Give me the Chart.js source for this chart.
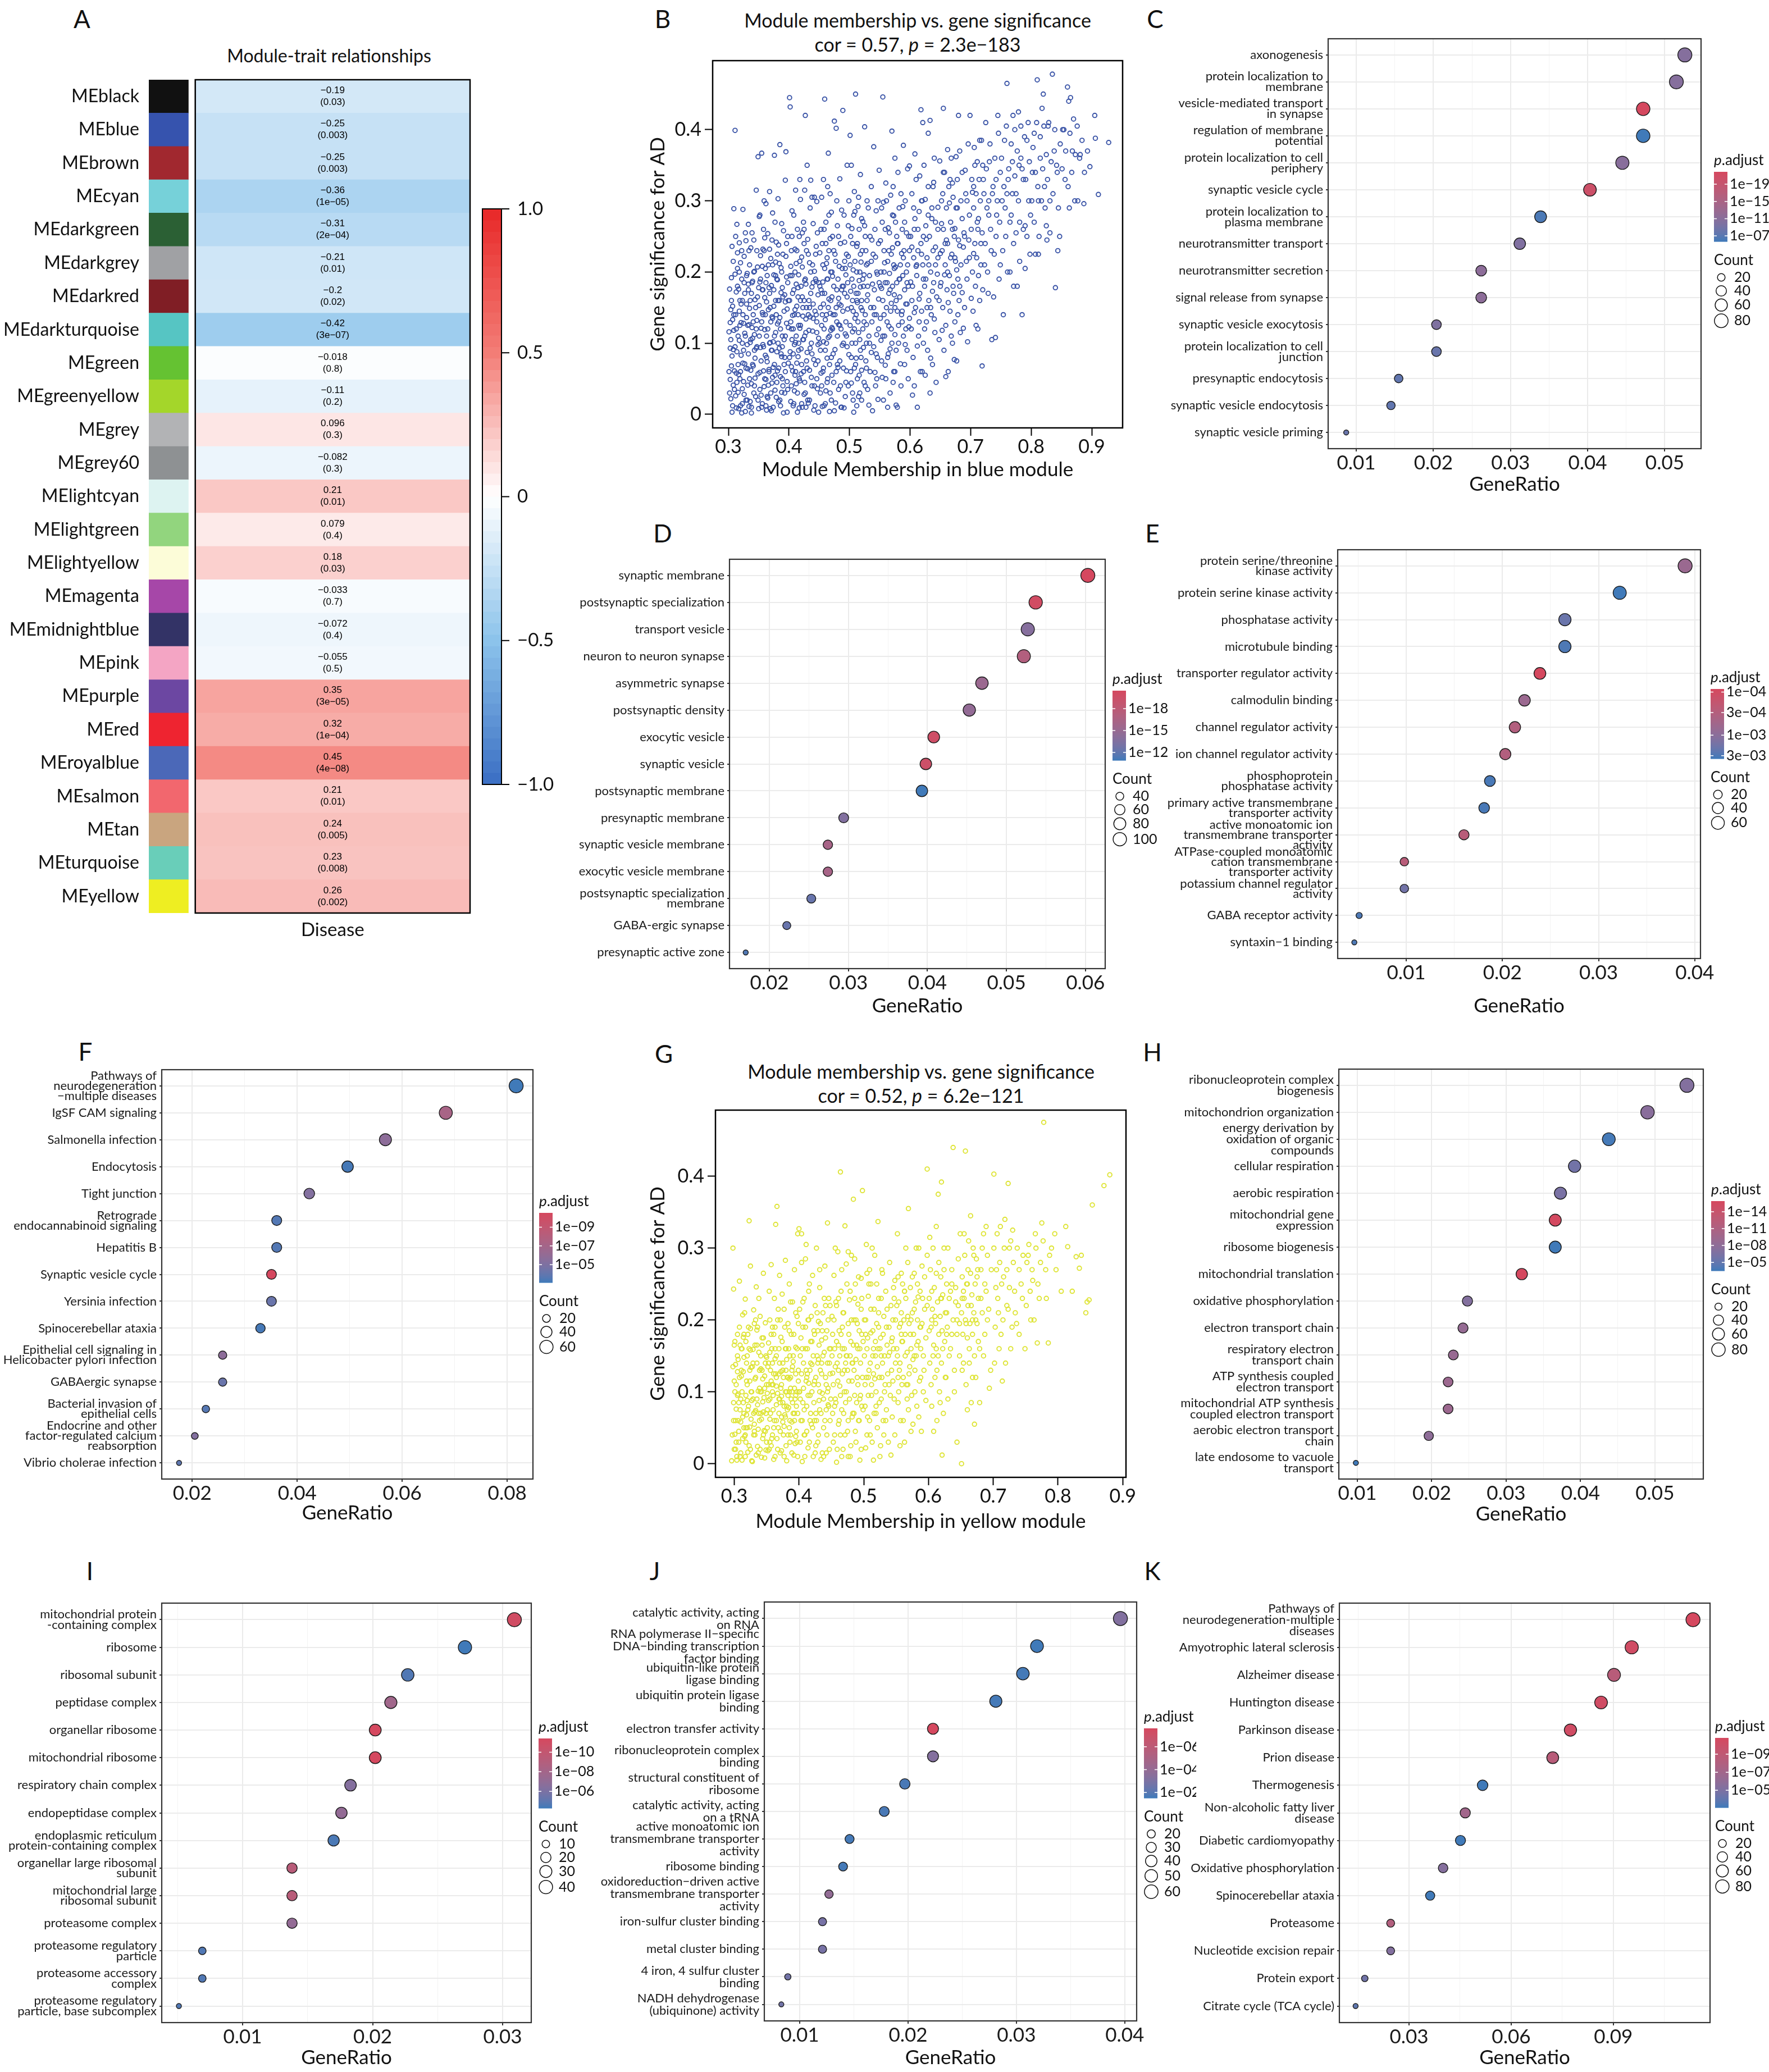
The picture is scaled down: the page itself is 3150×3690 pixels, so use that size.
<!DOCTYPE html>
<html>
<head>
<meta charset="utf-8">
<title>Module-trait relationships and enrichment</title>
<script src="https://cdn.jsdelivr.net/npm/chart.js@4.4.1/dist/chart.umd.min.js"></script>
<style>
  html, body { margin: 0; background: #fff; }
  body { position: relative; width: 3150px; height: 3690px; overflow: hidden; font-family: Lato, sans-serif; color: #111; }
  canvas { position: absolute; }
  .tag { position: absolute; font-size: 44px; transform: translate(-50%, -50%); }
  .head { position: absolute; font-size: 34px; white-space: nowrap; transform: translate(-50%, -50%); }
</style>
</head>
<body>
<div class="tag" style="left:146px;top:33px">A</div>
<div class="tag" style="left:1180px;top:33px">B</div>
<div class="tag" style="left:2057px;top:33px">C</div>
<div class="tag" style="left:1180px;top:949px">D</div>
<div class="tag" style="left:2052px;top:949px">E</div>
<div class="tag" style="left:152px;top:1872px">F</div>
<div class="tag" style="left:1182px;top:1876px">G</div>
<div class="tag" style="left:2052px;top:1873px">H</div>
<div class="tag" style="left:160px;top:2797px">I</div>
<div class="tag" style="left:1166px;top:2797px">J</div>
<div class="tag" style="left:2052px;top:2797px">K</div>
<div class="head" style="left:586px;top:98px;font-size:32px">Module-trait relationships</div>
<div class="head" style="left:1634px;top:35px">Module membership vs. gene significance</div>
<div class="head" style="left:1634px;top:78px">cor = 0.57, <i>p</i> = 2.3e−183</div>
<div class="head" style="left:1640px;top:1907px">Module membership vs. gene significance</div>
<div class="head" style="left:1640px;top:1950px">cor = 0.52, <i>p</i> = 6.2e−121</div>
<script>
// ---- A: module-trait heatmap ----
const modules = ['MEblack', 'MEblue', 'MEbrown', 'MEcyan', 'MEdarkgreen', 'MEdarkgrey', 'MEdarkred', 'MEdarkturquoise',
  'MEgreen', 'MEgreenyellow', 'MEgrey', 'MEgrey60', 'MElightcyan', 'MElightgreen', 'MElightyellow', 'MEmagenta',
  'MEmidnightblue', 'MEpink', 'MEpurple', 'MEred', 'MEroyalblue', 'MEsalmon', 'MEtan', 'MEturquoise', 'MEyellow'];
const moduleColors = ['#111111', '#3653AE', '#A1282F', '#76D1D9', '#2B6034', '#A0A1A4', '#801E25', '#56C5C3',
  '#65C232', '#A4D62A', '#B2B3B5', '#8E9193', '#DDF3F1', '#92D57E', '#FCFCD8', '#A647A8',
  '#333366', '#F4A5C4', '#6C47A2', '#EE2430', '#4B68B8', '#F2676E', '#C9A57F', '#69CEB9', '#EEEE22'];
const diseaseCor = [-0.19, -0.25, -0.25, -0.36, -0.31, -0.21, -0.2, -0.42, -0.018, -0.11, 0.096, -0.082, 0.21,
  0.079, 0.18, -0.033, -0.072, -0.055, 0.35, 0.32, 0.45, 0.21, 0.24, 0.23, 0.26];
const diseaseP = ['0.03', '0.003', '0.003', '1e−05', '2e−04', '0.01', '0.02', '3e−07', '0.8', '0.2', '0.3', '0.3', '0.01',
  '0.4', '0.03', '0.7', '0.4', '0.5', '3e−05', '1e−04', '4e−08', '0.01', '0.005', '0.008', '0.002'];
const corBarTicks = [1, 0.5, 0, -0.5, -1];

// ---- B / G: module membership vs gene significance ----
const mmTicks = [0.3, 0.4, 0.5, 0.6, 0.7, 0.8, 0.9];
const gsTicks = [0, 0.1, 0.2, 0.3, 0.4];
const bluePoints = [
  [.301,.116],[.303,.049],[.304,.147],[.305,.192],[.305,.068],[.306,.003],[.307,.133],[.308,.091],[.309,.289],[.311,.399],
  [.312,.026],[.313,.172],[.314,.267],[.315,.205],[.316,.110],[.317,.056],[.318,.241],[.319,.160],[.320,.012],[.321,.083],
  [.322,.190],[.323,.036],[.324,.288],[.325,.128],[.326,.222],[.327,.071],[.328,.004],[.329,.244],[.330,.155],[.331,.098],
  [.332,.041],[.333,.183],[.334,.126],[.335,.210],[.336,.018],[.337,.062],[.338,.170],[.339,.255],[.340,.107],[.341,.140],
  [.342,.030],[.343,.201],[.344,.079],[.346,.315],[.347,.230],[.348,.165],[.349,.362],[.350,.008],[.346,.120],[.344,.051],
  [.302,.176],[.303,.093],[.304,.022],[.306,.236],[.307,.152],[.308,.041],[.309,.118],[.310,.061],[.311,.197],[.312,.140],
  [.313,.009],[.314,.088],[.315,.227],[.316,.031],[.317,.176],[.318,.104],[.319,.050],[.320,.213],[.321,.129],[.322,.002],
  [.323,.160],[.324,.072],[.325,.046],[.326,.185],[.327,.114],[.328,.255],[.329,.020],[.330,.136],[.331,.198],[.332,.064],
  [.333,.267],[.334,.011],[.335,.149],[.336,.101],[.337,.234],[.338,.043],[.339,.122],[.340,.187],[.341,.068],[.342,.245],
  [.343,.112],[.344,.161],[.345,.025],[.346,.093],[.347,.132],[.348,.207],[.349,.057],[.350,.178],[.303,.129],[.313,.058],
  [.323,.100],[.333,.175],[.343,.090],[.318,.145],[.338,.002],
  [.301,.060],[.302,.030],[.304,.105],[.305,.160],[.306,.082],[.307,.012],[.308,.215],[.309,.140],[.310,.035],[.311,.095],
  [.312,.250],[.313,.120],[.314,.045],[.315,.180],[.316,.070],[.317,.008],[.318,.200],[.319,.125],[.320,.060],[.321,.155],
  [.322,.230],[.323,.015],[.324,.140],[.325,.090],[.326,.028],[.327,.170],[.328,.110],[.329,.065],[.330,.195],[.331,.020],
  [.332,.125],[.333,.085],[.334,.230],[.335,.050],[.336,.160],[.337,.105],[.338,.010],[.339,.185],[.340,.070],[.341,.130],
  [.342,.200],[.343,.040],[.345,.150],[.347,.095],[.349,.020],
  [.351,.278],[.352,.186],[.353,.094],[.354,.027],[.355,.367],[.356,.143],[.357,.232],[.358,.061],[.359,.300],[.360,.119],
  [.361,.205],[.362,.012],[.363,.158],[.364,.074],[.365,.254],[.366,.041],[.367,.178],[.368,.313],[.369,.101],[.370,.219],
  [.371,.005],[.372,.137],[.373,.283],[.374,.066],[.375,.196],[.376,.364],[.377,.034],[.378,.160],[.379,.242],[.380,.088],
  [.381,.127],[.382,.303],[.383,.018],[.384,.212],[.385,.379],[.386,.053],[.387,.171],[.388,.268],[.389,.110],[.390,.225],
  [.391,.002],[.392,.145],[.393,.080],[.394,.329],[.395,.369],[.396,.193],[.397,.046],[.398,.250],[.399,.122],[.356,.208],
  [.362,.049],[.372,.090],[.381,.189],[.388,.031],[.394,.158],
  [.351,.153],[.352,.059],[.353,.223],[.354,.121],[.355,.010],[.356,.175],[.357,.098],[.358,.260],[.359,.039],[.360,.164],
  [.361,.083],[.362,.296],[.363,.110],[.364,.195],[.365,.023],[.366,.147],[.367,.063],[.368,.232],[.369,.008],[.370,.130],
  [.371,.181],[.372,.044],[.373,.210],[.374,.102],[.375,.152],[.376,.070],[.377,.270],[.378,.115],[.379,.024],[.380,.190],
  [.381,.061],[.382,.160],[.383,.238],[.384,.093],[.385,.136],[.386,.012],[.387,.206],[.388,.081],[.389,.178],[.390,.040],
  [.391,.258],[.392,.105],[.393,.168],[.394,.060],[.395,.222],[.396,.128],[.397,.003],[.398,.185],[.399,.072],[.352,.280],
  [.357,.140],[.363,.006],[.368,.170],[.373,.052],[.378,.214],[.383,.130],[.389,.095],[.393,.030],[.397,.148],[.360,.248],
  [.351,.110],[.352,.035],[.353,.190],[.354,.075],[.355,.130],[.356,.015],[.357,.175],[.358,.095],[.359,.230],[.360,.050],
  [.361,.140],[.362,.185],[.363,.080],[.364,.025],[.365,.120],[.366,.210],[.367,.060],[.368,.100],[.369,.150],[.370,.030],
  [.371,.090],[.372,.245],[.373,.135],[.374,.010],[.375,.175],[.376,.110],[.377,.055],[.378,.195],[.379,.140],[.380,.045],
  [.381,.225],[.382,.100],[.383,.065],[.384,.160],[.385,.020],[.386,.120],[.387,.085],[.388,.200],[.389,.050],[.390,.165],
  [.392,.070],[.394,.110],[.396,.240],[.398,.035],[.399,.160],
  [.401,.445],[.402,.432],[.403,.208],[.404,.067],[.405,.286],[.406,.139],[.407,.012],[.408,.175],[.409,.098],[.410,.232],
  [.411,.315],[.412,.043],[.413,.152],[.414,.260],[.415,.081],[.416,.196],[.417,.009],[.418,.121],[.419,.302],[.420,.057],
  [.421,.221],[.422,.165],[.423,.105],[.424,.270],[.425,.028],[.426,.188],[.427,.420],[.428,.134],[.429,.075],[.430,.350],
  [.431,.246],[.432,.016],[.433,.160],[.434,.213],[.435,.093],[.436,.329],[.437,.052],[.438,.179],[.439,.117],[.440,.268],
  [.441,.006],[.442,.201],[.443,.145],[.444,.070],[.445,.236],[.446,.299],[.447,.036],[.448,.168],[.449,.107],[.405,.105],
  [.415,.140],[.425,.160],[.435,.137],[.445,.187],[.412,.183],
  [.401,.160],[.402,.088],[.403,.018],[.404,.230],[.405,.195],[.406,.061],[.407,.120],[.408,.280],[.409,.033],[.410,.147],
  [.411,.101],[.412,.212],[.413,.072],[.414,.003],[.415,.178],[.416,.125],[.417,.250],[.418,.047],[.419,.160],[.420,.092],
  [.421,.015],[.422,.207],[.423,.138],[.424,.060],[.425,.240],[.426,.110],[.427,.030],[.428,.183],[.429,.150],[.430,.087],
  [.431,.020],[.432,.225],[.433,.118],[.434,.062],[.435,.290],[.436,.170],[.437,.100],[.438,.040],[.439,.210],[.440,.135],
  [.441,.077],[.442,.305],[.443,.012],[.444,.190],[.445,.140],[.446,.050],[.447,.255],[.448,.098],[.449,.003],[.404,.120],
  [.410,.055],[.416,.090],[.422,.255],[.428,.010],[.434,.150],[.440,.185],[.446,.115],[.418,.330],[.438,.305],[.426,.315],
  [.401,.080],[.402,.195],[.403,.130],[.404,.040],[.405,.250],[.406,.170],[.407,.085],[.408,.015],[.409,.140],[.410,.200],
  [.411,.060],[.412,.110],[.413,.230],[.414,.030],[.415,.165],[.416,.100],[.417,.050],[.418,.215],[.419,.125],[.420,.180],
  [.421,.070],[.422,.010],[.423,.150],[.424,.105],[.425,.260],[.426,.045],[.427,.190],[.428,.115],[.429,.230],[.430,.065],
  [.432,.140],[.434,.020],[.436,.200],[.438,.085],[.440,.155],[.442,.040],[.444,.225],[.446,.130],[.448,.075],[.449,.185],
  [.451,.227],[.452,.150],[.453,.058],[.454,.305],[.455,.011],[.456,.186],[.457,.102],[.458,.260],[.459,.443],[.460,.133],
  [.461,.033],[.462,.212],[.463,.079],[.464,.320],[.465,.367],[.466,.162],[.467,.004],[.468,.247],[.469,.118],[.470,.284],
  [.471,.055],[.472,.194],[.473,.140],[.474,.230],[.475,.412],[.476,.091],[.477,.016],[.478,.402],[.479,.175],[.480,.265],
  [.481,.066],[.482,.126],[.483,.208],[.484,.331],[.485,.040],[.486,.153],[.487,.287],[.488,.097],[.489,.427],[.490,.180],
  [.491,.009],[.492,.242],[.493,.113],[.494,.196],[.495,.061],[.496,.350],[.497,.148],[.498,.222],[.499,.084],[.455,.170],
  [.468,.142],[.482,.163],[.493,.205],
  [.451,.100],[.452,.030],[.453,.175],[.454,.125],[.455,.240],[.456,.060],[.457,.155],[.458,.012],[.459,.205],[.460,.090],
  [.461,.270],[.462,.140],[.463,.045],[.464,.190],[.465,.108],[.466,.230],[.467,.070],[.468,.310],[.469,.160],[.470,.020],
  [.471,.122],[.472,.250],[.473,.085],[.474,.180],[.475,.005],[.476,.140],[.477,.215],[.478,.060],[.479,.300],[.480,.110],
  [.481,.190],[.482,.035],[.483,.155],[.484,.075],[.485,.240],[.486,.120],[.487,.010],[.488,.205],[.489,.145],[.490,.065],
  [.491,.280],[.492,.170],[.493,.025],[.494,.130],[.495,.225],[.496,.095],[.497,.185],[.498,.040],[.499,.300],[.457,.330],
  [.463,.220],[.471,.200],[.479,.130],[.487,.175],[.495,.110],
  [.451,.180],[.452,.090],[.453,.260],[.454,.040],[.455,.140],[.456,.210],[.457,.065],[.458,.120],[.459,.170],[.460,.015],
  [.461,.240],[.462,.100],[.463,.190],[.464,.050],[.465,.150],[.466,.280],[.467,.110],[.468,.030],[.469,.200],[.470,.080],
  [.471,.165],[.472,.120],[.474,.045],[.476,.225],[.478,.150],[.480,.070],[.482,.250],[.484,.125],[.486,.010],[.488,.180],
  [.490,.100],[.492,.215],[.494,.045],[.496,.165],[.498,.265],
  [.501,.392],[.502,.173],[.503,.044],[.504,.261],[.505,.116],[.506,.203],[.507,.003],[.508,.313],[.509,.135],[.510,.450],
  [.511,.079],[.512,.236],[.513,.157],[.514,.292],[.515,.025],[.516,.188],[.517,.105],[.518,.337],[.519,.214],[.520,.062],
  [.521,.146],[.522,.271],[.523,.094],[.524,.196],[.525,.404],[.526,.040],[.527,.230],[.528,.126],[.529,.300],[.530,.168],
  [.532,.013],[.534,.250],[.536,.087],[.538,.183],[.540,.376],[.541,.140],[.542,.059],[.543,.221],[.544,.286],[.545,.112],
  [.546,.197],[.547,.021],[.548,.162],[.549,.343],[.505,.160],[.518,.179],[.530,.212],
  [.501,.125],[.502,.250],[.503,.080],[.504,.190],[.505,.030],[.506,.145],[.507,.280],[.508,.065],[.509,.215],[.510,.100],
  [.511,.170],[.512,.012],[.513,.240],[.514,.130],[.515,.305],[.516,.055],[.517,.200],[.518,.090],[.519,.150],[.520,.020],
  [.521,.230],[.522,.120],[.523,.180],[.524,.045],[.525,.265],[.526,.140],[.527,.075],[.528,.210],[.529,.160],[.530,.035],
  [.531,.290],[.532,.110],[.533,.195],[.534,.060],[.535,.150],[.536,.320],[.537,.130],[.538,.005],[.539,.225],[.540,.095],
  [.541,.175],[.542,.260],[.543,.040],[.544,.140],[.545,.200],[.546,.080],[.547,.300],[.548,.120],[.549,.185],[.503,.350],
  [.512,.160],[.520,.275],[.528,.100],[.537,.245],[.545,.050],
  [.501,.210],[.502,.060],[.503,.150],[.504,.100],[.505,.240],[.506,.020],[.507,.180],[.508,.120],[.509,.285],[.510,.070],
  [.511,.140],[.512,.200],[.513,.050],[.514,.170],[.515,.115],[.516,.260],[.517,.030],[.518,.225],[.519,.080],[.520,.160],
  [.522,.190],[.524,.130],[.526,.250],[.528,.065],[.530,.180],[.533,.100],[.536,.215],[.540,.150],[.544,.085],[.548,.240],
  [.551,.244],[.552,.104],[.553,.177],[.554,.052],[.555,.446],[.556,.298],[.557,.140],[.558,.213],[.559,.069],[.560,.325],
  [.562,.185],[.563,.010],[.564,.262],[.565,.124],[.566,.198],[.567,.092],[.568,.308],[.569,.156],[.570,.398],[.571,.234],
  [.572,.045],[.573,.279],[.574,.168],[.575,.112],[.576,.207],[.577,.013],[.578,.250],[.579,.145],[.580,.340],[.582,.190],
  [.584,.071],[.586,.226],[.587,.130],[.588,.292],[.589,.378],[.591,.175],[.592,.098],[.594,.255],[.595,.155],[.596,.210],
  [.598,.123],[.599,.349],
  [.551,.135],[.552,.200],[.553,.075],[.554,.270],[.555,.160],[.556,.020],[.557,.230],[.558,.110],[.559,.185],[.560,.050],
  [.561,.300],[.562,.130],[.563,.215],[.564,.085],[.565,.170],[.566,.255],[.567,.030],[.568,.145],[.569,.225],[.570,.100],
  [.571,.180],[.572,.320],[.573,.060],[.574,.205],[.575,.150],[.576,.270],[.577,.090],[.578,.185],[.579,.010],[.580,.240],
  [.581,.125],[.582,.290],[.583,.165],[.584,.210],[.585,.040],[.586,.140],[.587,.260],[.588,.195],[.589,.110],[.590,.230],
  [.591,.070],[.592,.300],[.593,.155],[.594,.200],[.595,.090],[.596,.345],[.597,.180],[.598,.250],[.599,.135],[.575,.360],
  [.551,.180],[.553,.290],[.555,.110],[.557,.200],[.559,.260],[.561,.150],[.563,.080],[.565,.230],[.567,.175],[.569,.120],
  [.571,.280],[.573,.210],[.575,.060],[.577,.160],[.579,.240],[.581,.100],[.583,.190],[.585,.310],[.587,.145],[.589,.220],
  [.591,.270],[.593,.120],[.595,.185],[.597,.050],[.599,.230],[.603,.160],[.607,.260],[.611,.210],[.615,.130],[.619,.300],
  [.601,.186],[.603,.235],[.604,.027],[.606,.290],[.607,.143],[.608,.366],[.610,.208],[.612,.096],[.613,.260],[.615,.162],
  [.616,.335],[.618,.428],[.619,.225],[.620,.060],[.621,.410],[.622,.190],[.624,.120],[.625,.302],[.627,.246],[.628,.150],
  [.630,.395],[.631,.210],[.633,.413],[.634,.079],[.636,.275],[.637,.173],[.639,.326],[.640,.134],[.642,.235],[.643,.045],
  [.645,.197],[.646,.291],[.648,.160],[.649,.356],[.650,.226],[.655,.430],
  [.601,.250],[.602,.120],[.603,.310],[.604,.180],[.605,.080],[.606,.220],[.607,.040],[.608,.275],[.609,.150],[.610,.330],
  [.611,.195],[.612,.010],[.613,.230],[.614,.110],[.615,.285],[.616,.170],[.617,.060],[.618,.240],[.619,.145],[.620,.300],
  [.621,.210],[.622,.100],[.623,.350],[.624,.180],[.625,.055],[.626,.265],[.627,.130],[.628,.220],[.629,.090],[.630,.320],
  [.631,.160],[.632,.250],[.633,.030],[.634,.200],[.635,.140],[.636,.290],[.637,.070],[.638,.230],[.639,.185],[.640,.360],
  [.641,.115],[.642,.270],[.644,.165],[.646,.220],[.648,.105],
  [.622,.250],[.626,.190],[.630,.280],[.634,.150],[.638,.320],[.642,.210],[.646,.260],[.650,.180],[.654,.310],[.658,.240],
  [.662,.200],[.666,.330],[.670,.260],[.674,.220],[.678,.290],[.682,.180],[.686,.340],[.690,.250],[.694,.300],[.698,.220],
  [.705,.320],[.712,.260],[.720,.350],[.730,.300],[.742,.330],
  [.652,.268],[.653,.118],[.655,.340],[.657,.196],[.659,.053],[.660,.245],[.662,.372],[.663,.157],[.665,.297],[.667,.220],
  [.668,.110],[.670,.325],[.671,.180],[.673,.077],[.674,.261],[.676,.362],[.677,.203],[.679,.140],[.680,.420],[.682,.237],
  [.684,.300],[.686,.171],[.688,.121],[.689,.255],[.691,.343],[.693,.215],[.695,.102],[.696,.380],[.698,.280],[.699,.420],
  [.651,.185],[.652,.300],[.653,.230],[.654,.150],[.655,.260],[.656,.090],[.657,.340],[.658,.210],[.659,.125],[.660,.290],
  [.661,.175],[.662,.240],[.663,.060],[.664,.320],[.665,.195],[.666,.145],[.667,.270],[.668,.360],[.669,.225],[.670,.100],
  [.671,.305],[.672,.170],[.673,.250],[.674,.130],[.675,.215],[.676,.290],[.677,.075],[.678,.330],[.679,.190],[.680,.245],
  [.681,.160],[.682,.370],[.683,.115],[.684,.210],[.686,.275],[.688,.235],[.690,.150],[.692,.310],[.694,.190],[.697,.245],
  [.701,.163],[.703,.312],[.705,.226],[.707,.350],[.709,.125],[.711,.270],[.713,.195],[.715,.385],[.717,.240],[.719,.068],
  [.721,.330],[.723,.210],[.725,.410],[.727,.290],[.729,.170],[.731,.355],[.733,.260],[.735,.105],[.737,.320],[.739,.225],
  [.741,.108],[.743,.280],[.745,.420],[.747,.190],[.749,.340],
  [.701,.260],[.702,.330],[.703,.200],[.704,.145],[.705,.290],[.706,.375],[.707,.240],[.708,.180],[.709,.310],[.710,.220],
  [.711,.355],[.712,.120],[.713,.275],[.714,.330],[.715,.160],[.716,.300],[.717,.210],[.718,.385],[.719,.255],[.720,.175],
  [.722,.310],[.724,.240],[.726,.345],[.728,.200],[.730,.280],[.732,.380],[.734,.230],[.736,.310],[.738,.165],[.740,.360],
  [.742,.250],[.744,.300],[.746,.395],[.748,.270],[.749,.210],
  [.752,.300],[.754,.140],[.756,.385],[.758,.250],[.760,.465],[.762,.330],[.765,.200],[.767,.280],[.769,.355],[.771,.240],
  [.773,.400],[.775,.310],[.777,.180],[.779,.425],[.781,.270],[.783,.360],[.785,.140],[.787,.330],[.790,.205],[.793,.385],
  [.796,.300],
  [.751,.360],[.753,.230],[.755,.320],[.757,.290],[.759,.405],[.761,.200],[.763,.345],[.765,.270],[.767,.380],[.769,.310],
  [.771,.180],[.773,.335],[.775,.255],[.777,.370],[.779,.300],[.781,.215],[.783,.405],[.785,.345],[.787,.260],[.789,.390],
  [.791,.330],[.793,.250],[.795,.410],[.797,.355],[.799,.280],[.770,.420],[.780,.350],[.790,.265],[.760,.310],[.798,.225],
  [.802,.340],[.805,.395],[.807,.225],[.810,.470],[.812,.300],[.815,.360],[.818,.430],[.820,.450],[.822,.320],[.825,.265],
  [.828,.405],[.831,.300],[.835,.478],[.838,.370],[.840,.178],[.843,.340],[.847,.250],
  [.801,.300],[.803,.375],[.805,.270],[.807,.340],[.809,.410],[.811,.320],[.813,.250],[.815,.390],[.817,.300],[.819,.345],
  [.821,.405],[.823,.290],[.825,.365],[.827,.330],[.829,.410],[.831,.255],[.833,.355],[.836,.310],[.839,.400],[.842,.350],
  [.845,.290],[.848,.380],[.812,.225],[.826,.245],[.844,.230],
  [.852,.400],[.856,.330],[.860,.460],[.863,.290],[.865,.445],[.868,.370],[.872,.300],[.876,.405],[.881,.365],[.887,.296],
  [.851,.345],[.854,.400],[.857,.370],[.861,.320],[.864,.395],[.867,.340],[.870,.415],[.873,.365],[.877,.300],[.880,.360],
  [.884,.385],[.888,.340],[.893,.370],[.897,.348],[.862,.440],
  [.905,.420],[.906,.388],[.911,.309],[.928,.382]
];
const yellowPoints = [
  [.296,.004],[.298,.300],[.299,.243],[.300,.115],[.301,.041],[.302,.138],[.303,.076],[.304,.010],[.305,.180],[.306,.097],
  [.307,.030],[.308,.254],[.309,.165],[.310,.058],[.311,.122],[.312,.005],[.313,.207],[.314,.085],[.315,.148],[.316,.038],
  [.317,.229],[.318,.170],[.319,.068],[.320,.110],[.321,.016],[.322,.190],[.323,.338],[.324,.051],[.325,.275],[.326,.134],
  [.327,.088],[.328,.003],[.329,.159],[.330,.214],[.331,.045],[.332,.118],[.333,.074],[.334,.246],[.335,.186],[.336,.024],
  [.337,.101],[.338,.155],[.339,.060],[.340,.205],[.341,.132],[.342,.009],[.343,.175],[.344,.086],[.345,.265],[.346,.046],
  [.347,.122],[.348,.196],[.349,.019],[.350,.148],[.300,.165],[.310,.090],[.320,.150],[.330,.070],[.340,.100],[.305,.128],
  [.315,.050],[.325,.188],[.335,.140],[.345,.072],[.318,.030],[.332,.165],
  [.297,.040],[.298,.135],[.299,.085],[.300,.020],[.301,.170],[.302,.060],[.303,.110],[.304,.005],[.305,.095],[.306,.145],
  [.307,.045],[.308,.190],[.309,.075],[.310,.015],[.311,.160],[.312,.100],[.313,.035],[.314,.128],[.315,.070],[.316,.210],
  [.317,.010],[.318,.095],[.319,.140],[.320,.050],[.321,.180],[.322,.080],[.323,.025],[.324,.115],[.325,.158],[.326,.062],
  [.327,.004],[.328,.135],[.329,.090],[.330,.040],[.331,.195],[.332,.072],[.333,.120],[.334,.012],[.335,.165],[.336,.082],
  [.337,.048],[.338,.230],[.339,.105],[.340,.020],[.341,.150],[.342,.062],[.343,.130],[.344,.035],[.345,.175],[.346,.092],
  [.347,.008],[.348,.140],[.349,.070],[.350,.110],[.302,.020],[.308,.120],[.314,.176],[.320,.088],[.326,.100],[.332,.040],
  [.338,.070],[.344,.118],[.350,.030],[.306,.060],[.312,.160],[.318,.050],[.324,.130],[.336,.190],[.342,.100],[.348,.045],
  [.299,.060],[.301,.100],[.303,.030],[.305,.150],[.307,.085],[.309,.010],[.311,.130],[.313,.065],[.315,.180],[.317,.040],
  [.319,.115],[.321,.075],[.323,.160],[.325,.020],[.327,.100],[.329,.140],[.331,.055],[.333,.200],[.335,.090],[.337,.015],
  [.339,.130],[.341,.070],[.343,.165],[.345,.040],[.347,.105],[.349,.150],
  [.351,.098],[.352,.018],[.353,.168],[.354,.240],[.355,.062],[.356,.130],[.357,.277],[.358,.035],[.359,.190],[.360,.110],
  [.361,.006],[.362,.230],[.363,.146],[.364,.333],[.365,.082],[.366,.358],[.367,.200],[.368,.050],[.369,.125],[.370,.262],
  [.371,.015],[.372,.176],[.373,.094],[.374,.236],[.375,.140],[.376,.040],[.377,.215],[.378,.068],[.379,.283],[.380,.160],
  [.381,.004],[.382,.120],[.383,.195],[.384,.078],[.385,.250],[.386,.030],[.387,.105],[.388,.180],[.389,.058],[.390,.225],
  [.391,.142],[.392,.012],[.393,.270],[.394,.090],[.395,.162],[.396,.045],[.397,.205],[.398,.320],[.399,.115],[.400,.327],
  [.355,.155],[.360,.075],[.365,.108],[.370,.090],[.375,.058],[.380,.130],[.385,.100],[.390,.085],[.395,.038],[.358,.110],
  [.372,.128],[.386,.150],[.398,.070],
  [.351,.050],[.352,.135],[.353,.088],[.354,.020],[.355,.200],[.356,.070],[.357,.115],[.358,.160],[.359,.040],[.360,.095],
  [.361,.180],[.362,.060],[.363,.010],[.364,.125],[.365,.150],[.366,.035],[.367,.098],[.368,.215],[.369,.070],[.370,.140],
  [.371,.045],[.372,.105],[.373,.018],[.374,.170],[.375,.085],[.376,.120],[.377,.052],[.378,.190],[.379,.100],[.380,.025],
  [.381,.145],[.382,.075],[.383,.040],[.384,.160],[.385,.118],[.386,.060],[.387,.225],[.388,.090],[.389,.015],[.390,.135],
  [.391,.070],[.392,.180],[.393,.105],[.394,.028],[.395,.125],[.396,.080],[.397,.160],[.398,.010],[.399,.195],[.400,.100],
  [.353,.110],[.357,.025],[.361,.125],[.365,.060],[.369,.160],[.373,.110],[.377,.080],[.381,.100],[.385,.050],[.389,.130],
  [.393,.060],[.397,.100],[.355,.090],[.363,.190],[.371,.085],[.379,.065],[.387,.120],[.395,.095],[.359,.140],[.383,.095],
  [.351,.075],[.353,.140],[.355,.030],[.357,.180],[.359,.100],[.361,.050],[.363,.160],[.365,.120],[.367,.020],[.369,.090],
  [.371,.200],[.373,.065],[.375,.130],[.377,.010],[.379,.160],[.381,.080],[.383,.120],[.385,.185],[.387,.040],[.389,.100],
  [.391,.150],[.393,.070],[.395,.210],[.397,.030],[.399,.130],
  [.401,.215],[.402,.150],[.403,.060],[.404,.280],[.405,.003],[.406,.190],[.407,.105],[.408,.230],[.409,.040],[.410,.160],
  [.411,.305],[.412,.080],[.413,.125],[.414,.022],[.415,.200],[.416,.250],[.417,.095],[.418,.170],[.419,.055],[.420,.138],
  [.421,.262],[.422,.010],[.423,.185],[.424,.115],[.425,.220],[.426,.070],[.427,.300],[.428,.150],[.429,.030],[.430,.198],
  [.431,.088],[.432,.245],[.433,.130],[.434,.006],[.435,.172],[.436,.098],[.437,.210],[.438,.050],[.439,.155],[.440,.275],
  [.441,.120],[.442,.015],[.443,.185],[.444,.335],[.445,.082],[.446,.230],[.447,.140],[.448,.060],[.449,.160],[.415,.112],
  [.430,.110],[.445,.105],
  [.401,.100],[.402,.030],[.403,.175],[.404,.125],[.405,.060],[.406,.225],[.407,.140],[.408,.075],[.409,.010],[.410,.190],
  [.411,.115],[.412,.045],[.413,.160],[.414,.095],[.415,.240],[.416,.030],[.417,.130],[.418,.070],[.419,.205],[.420,.100],
  [.421,.050],[.422,.150],[.423,.085],[.424,.180],[.425,.015],[.426,.120],[.427,.060],[.428,.210],[.429,.140],[.430,.040],
  [.431,.165],[.432,.100],[.433,.195],[.434,.070],[.435,.125],[.436,.015],[.437,.150],[.438,.090],[.439,.230],[.440,.060],
  [.441,.175],[.442,.110],[.443,.040],[.444,.140],[.445,.200],[.446,.080],[.447,.020],[.448,.125],[.449,.090],[.406,.085],
  [.412,.120],[.418,.140],[.424,.060],[.430,.145],[.436,.185],[.442,.075],[.448,.220],[.410,.285],[.432,.270],[.404,.320],
  [.402,.090],[.405,.160],[.408,.040],[.411,.130],[.414,.200],[.417,.060],[.420,.170],[.423,.110],[.426,.025],[.429,.185],
  [.432,.075],[.435,.140],[.438,.010],[.441,.220],[.444,.100],[.447,.160],
  [.451,.205],[.452,.126],[.453,.030],[.454,.262],[.455,.160],[.456,.090],[.457,.225],[.458,.002],[.459,.140],[.460,.295],
  [.461,.055],[.462,.185],[.463,.108],[.464,.406],[.465,.240],[.466,.075],[.467,.160],[.468,.020],[.469,.210],[.470,.130],
  [.471,.331],[.472,.085],[.473,.278],[.474,.150],[.475,.045],[.476,.195],[.477,.115],[.478,.228],[.479,.010],[.480,.170],
  [.481,.290],[.482,.065],[.483,.140],[.484,.368],[.485,.200],[.486,.095],[.487,.250],[.488,.030],[.489,.165],[.490,.120],
  [.491,.222],[.492,.060],[.493,.185],[.494,.005],[.495,.140],[.496,.258],[.497,.080],[.498,.380],[.499,.170],
  [.451,.150],[.452,.070],[.453,.110],[.454,.200],[.455,.040],[.456,.135],[.457,.085],[.458,.170],[.459,.020],[.460,.115],
  [.461,.230],[.462,.060],[.463,.150],[.464,.095],[.465,.180],[.466,.010],[.467,.125],[.468,.210],[.469,.070],[.470,.160],
  [.471,.040],[.472,.140],[.473,.100],[.474,.250],[.475,.130],[.476,.060],[.477,.180],[.478,.090],[.479,.150],[.480,.025],
  [.481,.200],[.482,.115],[.483,.070],[.484,.165],[.485,.130],[.486,.230],[.487,.045],[.488,.145],[.489,.085],[.490,.195],
  [.491,.110],[.492,.260],[.493,.060],[.494,.160],[.495,.095],[.496,.020],[.497,.180],[.498,.120],[.499,.075],[.456,.300],
  [.466,.270],[.476,.295],[.486,.285],[.496,.215],[.461,.165],
  [.452,.180],[.455,.080],[.458,.220],[.461,.130],[.464,.040],[.467,.190],[.470,.100],[.473,.150],[.476,.010],[.479,.240],
  [.482,.140],[.485,.070],[.488,.200],[.491,.160],[.494,.090],[.497,.230],
  [.501,.200],[.502,.110],[.503,.022],[.504,.305],[.505,.160],[.506,.065],[.507,.233],[.508,.130],[.509,.270],[.510,.040],
  [.511,.182],[.512,.095],[.513,.300],[.514,.150],[.515,.005],[.516,.215],[.517,.118],[.518,.170],[.519,.070],[.520,.250],
  [.521,.135],[.522,.337],[.523,.190],[.524,.085],[.525,.160],[.526,.025],[.527,.230],[.528,.120],[.529,.265],[.530,.180],
  [.532,.100],[.534,.060],[.536,.215],[.538,.150],[.540,.280],[.542,.012],[.544,.175],[.545,.115],[.546,.245],[.548,.040],
  [.549,.200],
  [.501,.150],[.502,.080],[.503,.200],[.504,.120],[.505,.040],[.506,.175],[.507,.095],[.508,.250],[.509,.060],[.510,.140],
  [.511,.215],[.512,.110],[.513,.030],[.514,.185],[.515,.125],[.516,.070],[.517,.290],[.518,.150],[.519,.100],[.520,.195],
  [.521,.050],[.522,.160],[.523,.230],[.524,.120],[.525,.010],[.526,.175],[.527,.090],[.528,.270],[.529,.140],[.530,.060],
  [.531,.205],[.532,.150],[.533,.110],[.534,.240],[.535,.075],[.536,.165],[.537,.125],[.538,.030],[.539,.190],[.540,.155],
  [.541,.095],[.542,.220],[.543,.130],[.544,.065],[.545,.200],[.546,.160],[.547,.090],[.548,.255],[.549,.140],[.505,.265],
  [.503,.180],[.507,.120],[.511,.250],[.515,.160],[.519,.080],[.523,.210],[.527,.150],[.531,.040],[.535,.190],[.539,.110],
  [.543,.170],[.547,.230],
  [.551,.160],[.552,.320],[.553,.085],[.554,.225],[.555,.130],[.556,.025],[.557,.195],[.558,.265],[.559,.110],[.560,.170],
  [.561,.060],[.563,.240],[.564,.150],[.565,.300],[.567,.090],[.568,.205],[.569,.355],[.570,.125],[.572,.180],[.573,.045],
  [.575,.260],[.576,.145],[.578,.215],[.579,.100],[.581,.300],[.582,.165],[.584,.232],[.585,.065],[.587,.190],[.588,.120],
  [.590,.275],[.592,.150],[.594,.215],[.596,.088],[.598,.410],
  [.551,.220],[.552,.150],[.553,.260],[.554,.100],[.555,.190],[.556,.140],[.557,.060],[.558,.210],[.559,.170],[.560,.250],
  [.561,.120],[.562,.200],[.563,.030],[.564,.180],[.565,.230],[.566,.110],[.567,.155],[.568,.280],[.569,.075],[.570,.195],
  [.571,.135],[.572,.245],[.573,.160],[.574,.095],[.575,.210],[.576,.055],[.577,.180],[.578,.265],[.579,.130],[.580,.225],
  [.581,.150],[.582,.080],[.583,.200],[.584,.170],[.585,.300],[.586,.115],[.587,.240],[.588,.160],[.589,.045],[.590,.195],
  [.591,.230],[.592,.100],[.594,.260],[.596,.175],[.598,.290],
  [.553,.120],[.558,.180],[.563,.240],[.568,.110],[.573,.200],[.578,.150],[.583,.250],[.588,.190],[.593,.130],[.598,.220],
  [.601,.185],[.602,.315],[.604,.110],[.605,.240],[.607,.150],[.608,.045],[.610,.205],[.612,.265],[.613,.130],[.615,.375],
  [.616,.180],[.618,.085],[.619,.230],[.620,.392],[.621,.012],[.622,.160],[.624,.270],[.626,.120],[.628,.210],[.630,.300],
  [.632,.150],[.634,.240],[.636,.180],[.638,.440],[.640,.100],[.642,.225],[.644,.030],[.646,.285],[.648,.195],
  [.601,.230],[.602,.140],[.603,.270],[.604,.190],[.605,.080],[.606,.215],[.607,.300],[.608,.165],[.609,.245],[.610,.120],
  [.611,.195],[.612,.330],[.613,.060],[.614,.225],[.615,.150],[.616,.280],[.617,.100],[.618,.205],[.619,.260],[.620,.140],
  [.621,.185],[.622,.235],[.623,.070],[.624,.300],[.625,.170],[.626,.210],[.627,.120],[.628,.250],[.629,.190],[.630,.090],
  [.632,.230],[.634,.160],[.636,.270],[.638,.200],[.640,.130],[.642,.245],[.644,.180],[.646,.220],[.648,.150],[.649,.320],
  [.605,.200],[.612,.160],[.620,.230],[.628,.180],[.636,.250],[.644,.200],
  [.651,.000],[.652,.130],[.654,.240],[.655,.320],[.657,.435],[.658,.195],[.660,.075],[.661,.270],[.663,.160],[.665,.345],
  [.666,.220],[.668,.120],[.670,.290],[.671,.055],[.673,.200],[.675,.260],[.677,.170],[.679,.085],[.681,.230],[.683,.300],
  [.685,.150],[.687,.250],[.689,.330],[.691,.200],[.694,.105],[.697,.270],
  [.651,.210],[.652,.260],[.653,.180],[.654,.140],[.655,.230],[.656,.290],[.657,.200],[.658,.110],[.659,.250],[.660,.175],
  [.661,.220],[.662,.310],[.663,.140],[.664,.195],[.665,.265],[.666,.085],[.667,.235],[.668,.180],[.669,.300],[.670,.210],
  [.671,.150],[.672,.250],[.673,.120],[.674,.285],[.675,.195],[.677,.230],[.679,.160],[.681,.270],[.683,.210],[.685,.320],
  [.687,.180],[.689,.240],[.691,.290],[.693,.215],[.696,.130],
  [.652,.230],[.660,.250],[.668,.200],[.676,.270],
  [.701,.403],[.702,.140],[.704,.245],[.706,.320],[.708,.210],[.710,.280],[.712,.180],[.714,.115],[.716,.260],[.718,.340],
  [.721,.220],[.723,.390],[.725,.300],[.727,.160],[.730,.325],[.733,.240],[.736,.195],[.740,.270],[.745,.230],
  [.701,.300],[.703,.190],[.705,.270],[.707,.230],[.709,.160],[.711,.330],[.713,.250],[.715,.200],[.717,.300],[.719,.140],
  [.721,.270],[.723,.215],[.725,.245],[.727,.310],[.729,.190],[.731,.280],[.734,.210],[.737,.300],[.740,.180],[.743,.250],
  [.746,.290],[.749,.160],
  [.752,.280],[.755,.305],[.758,.200],[.761,.255],[.765,.320],[.768,.168],[.771,.230],[.775,.335],[.778,.475],[.781,.270],
  [.785,.168],[.790,.300],[.795,.320],
  [.751,.220],[.754,.290],[.757,.240],[.760,.270],[.763,.200],[.766,.300],[.769,.250],[.773,.280],[.777,.310],[.782,.230],
  [.787,.290],[.797,.270],
  [.805,.240],[.815,.302],[.828,.288],[.833,.272],[.843,.210],[.848,.228],[.871,.387],[.880,.402],
  [.812,.330],[.822,.240],[.836,.290],[.845,.225],[.853,.360]
];

// ---- C: GO biological process (blue module) ----
const cTerms = ['axonogenesis', 'protein localization to\nmembrane', 'vesicle-mediated transport\nin synapse',
  'regulation of membrane\npotential', 'protein localization to cell\nperiphery', 'synaptic vesicle cycle',
  'protein localization to\nplasma membrane', 'neurotransmitter transport', 'neurotransmitter secretion',
  'signal release from synapse', 'synaptic vesicle exocytosis', 'protein localization to cell\njunction',
  'presynaptic endocytosis', 'synaptic vesicle endocytosis', 'synaptic vesicle priming'];
const cRatio = [0.0526, 0.0515, 0.0472, 0.0472, 0.0445, 0.0403, 0.0339, 0.0312, 0.0262, 0.0262, 0.0204, 0.0204, 0.0155, 0.0145, 0.0087];
const cCount = [86, 84, 77, 77, 73, 66, 55, 51, 43, 43, 33, 33, 25, 24, 14];
const cPadj = [2.5e-11, 2e-11, 1.3e-22, 2e-6, 1.2e-11, 5e-21, 6e-7, 8e-11, 4e-12, 4e-12, 1e-10, 8e-9, 3e-8, 3e-8, 8e-9];
const cTicks = [0.01, 0.02, 0.03, 0.04, 0.05];
const cPadjTicks = [1e-19, 1e-15, 1e-11, 1e-7];
const cCountTicks = [20, 40, 60, 80];

// ---- D: GO cellular component (blue module) ----
const dTerms = ['synaptic membrane', 'postsynaptic specialization', 'transport vesicle', 'neuron to neuron synapse',
  'asymmetric synapse', 'postsynaptic density', 'exocytic vesicle', 'synaptic vesicle', 'postsynaptic membrane',
  'presynaptic membrane', 'synaptic vesicle membrane', 'exocytic vesicle membrane',
  'postsynaptic specialization\nmembrane', 'GABA-ergic synapse', 'presynaptic active zone'];
const dRatio = [0.0603, 0.0537, 0.0527, 0.0522, 0.0469, 0.0453, 0.0408, 0.0398, 0.0393, 0.0294, 0.0274, 0.0274, 0.0253, 0.0222, 0.0170];
const dCount = [112, 100, 98, 97, 87, 84, 76, 74, 73, 55, 51, 51, 47, 41, 32];
const dPadj = [3.5e-21, 1e-20, 1.5e-14, 8e-18, 6e-16, 2e-15, 2e-20, 3e-20, 1.2e-11, 2.5e-14, 7e-17, 7e-17, 5e-13, 5e-13, 4e-12];
const dTicks = [0.02, 0.03, 0.04, 0.05, 0.06];
const dPadjTicks = [1e-18, 1e-15, 1e-12];
const dCountTicks = [40, 60, 80, 100];

// ---- E: GO molecular function (blue module) ----
const eTerms = ['protein serine/threonine\nkinase activity', 'protein serine kinase activity', 'phosphatase activity',
  'microtubule binding', 'transporter regulator activity', 'calmodulin binding', 'channel regulator activity',
  'ion channel regulator activity', 'phosphoprotein\nphosphatase activity',
  'primary active transmembrane\ntransporter activity', 'active monoatomic ion\ntransmembrane transporter\nactivity',
  'ATPase-coupled monoatomic\ncation transmembrane\ntransporter activity', 'potassium channel regulator\nactivity',
  'GABA receptor activity', 'syntaxin−1 binding'];
const eRatio = [0.0390, 0.0322, 0.0265, 0.0265, 0.0239, 0.0223, 0.0213, 0.0203, 0.0187, 0.0181, 0.0160, 0.0098, 0.0098, 0.0051, 0.0046];
const eCount = [76, 63, 52, 52, 47, 44, 42, 40, 37, 35, 31, 19, 19, 10, 9];
const ePadj = [6.6e-4, 3.5e-3, 2e-3, 3e-3, 8.5e-5, 6.5e-4, 3.2e-4, 3.2e-4, 3.2e-3, 3.2e-3, 2.6e-4, 2.6e-4, 1.7e-3, 3e-3, 3e-3];
const eTicks = [0.01, 0.02, 0.03, 0.04];
const ePadjTicks = [1e-4, 3e-4, 1e-3, 3e-3];
const eCountTicks = [20, 40, 60];

// ---- F: KEGG (blue module) ----
const fTerms = ['Pathways of\nneurodegeneration\n−multiple diseases', 'IgSF CAM signaling', 'Salmonella infection',
  'Endocytosis', 'Tight junction', 'Retrograde\nendocannabinoid signaling', 'Hepatitis B', 'Synaptic vesicle cycle',
  'Yersinia infection', 'Spinocerebellar ataxia', 'Epithelial cell signaling in\nHelicobacter pylori infection',
  'GABAergic synapse', 'Bacterial invasion of\nepithelial cells',
  'Endocrine and other\nfactor-regulated calcium\nreabsorption', 'Vibrio cholerae infection'];
const fRatio = [0.0817, 0.0683, 0.0568, 0.0496, 0.0423, 0.0361, 0.0361, 0.0351, 0.0351, 0.0330, 0.0258, 0.0258, 0.0226, 0.0205, 0.0175];
const fCount = [69, 58, 48, 42, 36, 31, 31, 30, 30, 28, 22, 22, 19, 17, 15];
const fPadj = [8e-4, 6e-8, 2e-6, 6e-4, 6e-6, 3e-4, 3e-4, 3e-11, 6e-5, 6e-4, 2e-6, 6e-5, 2.5e-4, 6e-6, 1.5e-4];
const fTicks = [0.02, 0.04, 0.06, 0.08];
const fPadjTicks = [1e-9, 1e-7, 1e-5];
const fCountTicks = [20, 40, 60];

// ---- H: GO biological process (yellow module) ----
const hTerms = ['ribonucleoprotein complex\nbiogenesis', 'mitochondrion organization',
  'energy derivation by\noxidation of organic\ncompounds', 'cellular respiration', 'aerobic respiration',
  'mitochondrial gene\nexpression', 'ribosome biogenesis', 'mitochondrial translation', 'oxidative phosphorylation',
  'electron transport chain', 'respiratory electron\ntransport chain', 'ATP synthesis coupled\nelectron transport',
  'mitochondrial ATP synthesis\ncoupled electron transport', 'aerobic electron transport\nchain',
  'late endosome to vacuole\ntransport'];
const hRatio = [0.0543, 0.0490, 0.0438, 0.0392, 0.0373, 0.0366, 0.0366, 0.0321, 0.0248, 0.0242, 0.0229, 0.0222, 0.0222, 0.0196, 0.0098];
const hCount = [89, 80, 71, 64, 61, 60, 60, 52, 40, 39, 37, 36, 36, 32, 16];
const hPadj = [8e-8, 2.5e-8, 2.1e-4, 1.3e-6, 4e-7, 2e-16, 3e-4, 1.3e-16, 8e-8, 2.5e-9, 1.5e-9, 6e-10, 6e-10, 1e-8, 3e-4];
const hTicks = [0.01, 0.02, 0.03, 0.04, 0.05];
const hPadjTicks = [1e-14, 1e-11, 1e-8, 1e-5];
const hCountTicks = [20, 40, 60, 80];

// ---- I: GO cellular component (yellow module) ----
const iTerms = ['mitochondrial protein\n-containing complex', 'ribosome', 'ribosomal subunit', 'peptidase complex',
  'organellar ribosome', 'mitochondrial ribosome', 'respiratory chain complex', 'endopeptidase complex',
  'endoplasmic reticulum\nprotein-containing complex', 'organellar large ribosomal\nsubunit',
  'mitochondrial large\nribosomal subunit', 'proteasome complex', 'proteasome regulatory\nparticle',
  'proteasome accessory\ncomplex', 'proteasome regulatory\nparticle, base subcomplex'];
const iRatio = [0.0309, 0.0271, 0.0227, 0.0214, 0.0202, 0.0202, 0.0183, 0.0176, 0.0170, 0.0138, 0.0138, 0.0138, 0.0069, 0.0069, 0.0051];
const iCount = [45, 39, 33, 31, 29, 29, 27, 26, 25, 20, 20, 20, 10, 10, 7];
const iPadj = [9e-12, 5e-5, 2.2e-5, 1.4e-8, 4e-12, 4e-12, 4e-7, 8e-8, 3e-5, 5e-10, 5e-10, 8e-8, 2.2e-5, 2.2e-5, 2.2e-5];
const iTicks = [0.01, 0.02, 0.03];
const iPadjTicks = [1e-10, 1e-8, 1e-6];
const iCountTicks = [10, 20, 30, 40];

// ---- J: GO molecular function (yellow module) ----
const jTerms = ['catalytic activity, acting\non RNA', 'RNA polymerase II−specific\nDNA−binding transcription\nfactor binding',
  'ubiquitin-like protein\nligase binding', 'ubiquitin protein ligase\nbinding', 'electron transfer activity',
  'ribonucleoprotein complex\nbinding', 'structural constituent of\nribosome', 'catalytic activity, acting\non a tRNA',
  'active monoatomic ion\ntransmembrane transporter\nactivity', 'ribosome binding',
  'oxidoreduction−driven active\ntransmembrane transporter\nactivity', 'iron-sulfur cluster binding',
  'metal cluster binding', '4 iron, 4 sulfur cluster\nbinding', 'NADH dehydrogenase\n(ubiquinone) activity'];
const jRatio = [0.0396, 0.0319, 0.0306, 0.0281, 0.0223, 0.0223, 0.0197, 0.0178, 0.0146, 0.0140, 0.0127, 0.0121, 0.0121, 0.0089, 0.0083];
const jCount = [65, 52, 50, 46, 37, 37, 32, 29, 24, 23, 21, 20, 20, 15, 14];
const jPadj = [6e-4, 3e-2, 2.5e-2, 2.5e-2, 2.5e-8, 5e-4, 2e-2, 2e-2, 2.5e-2, 2.5e-2, 1.3e-4, 1.4e-3, 1.4e-3, 2e-3, 2e-3];
const jTicks = [0.01, 0.02, 0.03, 0.04];
const jPadjTicks = [1e-6, 1e-4, 1e-2];
const jCountTicks = [20, 30, 40, 50, 60];

// ---- K: KEGG (yellow module) ----
const kTerms = ['Pathways of\nneurodegeneration-multiple\ndiseases', 'Amyotrophic lateral sclerosis', 'Alzheimer disease',
  'Huntington disease', 'Parkinson disease', 'Prion disease', 'Thermogenesis', 'Non-alcoholic fatty liver\ndisease',
  'Diabetic cardiomyopathy', 'Oxidative phosphorylation', 'Spinocerebellar ataxia', 'Proteasome',
  'Nucleotide excision repair', 'Protein export', 'Citrate cycle (TCA cycle)'];
const kRatio = [0.1134, 0.0954, 0.0902, 0.0864, 0.0774, 0.0722, 0.0516, 0.0465, 0.0451, 0.0400, 0.0362, 0.0246, 0.0246, 0.0170, 0.0143];
const kCount = [92, 77, 73, 70, 63, 58, 42, 38, 37, 32, 29, 20, 20, 14, 12];
const kPadj = [1.6e-11, 4e-11, 3e-9, 4e-11, 4e-11, 3e-9, 8e-4, 1e-7, 8e-4, 4e-6, 8e-4, 8e-9, 5e-6, 3e-5, 1.3e-4];
const kTicks = [0.03, 0.06, 0.09];
const kPadjTicks = [1e-9, 1e-7, 1e-5];
const kCountTicks = [20, 40, 60, 80];

// ---------------- helpers ----------------
Chart.defaults.font.family = 'Lato';
const minus = s => String(s).replace(/-/g, '−');

function addCanvas([l, t, r, b]) {
  const c = document.createElement('canvas');
  c.width = r - l; c.height = b - t;
  c.style.left = l + 'px'; c.style.top = t + 'px';
  document.body.appendChild(c);
  return c;
}

const framePlugin = {
  id: 'frame',
  afterDraw(chart, args, opts) {
    const a = chart.chartArea, c = chart.ctx;
    c.save();
    c.strokeStyle = opts.color || '#333';
    c.lineWidth = opts.width || 2;
    c.strokeRect(a.left, a.top, a.right - a.left, a.bottom - a.top);
    c.restore();
  }
};

// Lab interpolation between the low (red) and high (blue) p.adjust colours
const LOW = [213, 72, 95], HIGH = [64, 122, 185];
function toLab([r, g, b]) {
  const f = c => { c /= 255; return c <= 0.04045 ? c / 12.92 : Math.pow((c + 0.055) / 1.055, 2.4); };
  const R = f(r), G = f(g), B = f(b);
  const h = t => t > 0.008856 ? Math.cbrt(t) : 7.787 * t + 16 / 116;
  const X = h((R * 0.4124 + G * 0.3576 + B * 0.1805) / 0.95047);
  const Y = h(R * 0.2126 + G * 0.7152 + B * 0.0722);
  const Z = h((R * 0.0193 + G * 0.1192 + B * 0.9505) / 1.08883);
  return [116 * Y - 16, 500 * (X - Y), 200 * (Y - Z)];
}
function fromLab([L, a, b]) {
  let Y = (L + 16) / 116, X = a / 500 + Y, Z = Y - b / 200;
  const h = t => t ** 3 > 0.008856 ? t ** 3 : (t - 16 / 116) / 7.787;
  X = h(X) * 0.95047; Y = h(Y); Z = h(Z) * 1.08883;
  const R = X * 3.2406 - Y * 1.5372 - Z * 0.4986;
  const G = -X * 0.9689 + Y * 1.8758 + Z * 0.0415;
  const B = X * 0.0557 - Y * 0.2040 + Z * 1.0570;
  const g = c => { c = c > 0.0031308 ? 1.055 * Math.pow(c, 1 / 2.4) - 0.055 : 12.92 * c; return Math.round(Math.max(0, Math.min(1, c)) * 255); };
  return `rgb(${g(R)},${g(G)},${g(B)})`;
}
const LOW_LAB = toLab(LOW), HIGH_LAB = toLab(HIGH);
const padjColor = t => fromLab(LOW_LAB.map((v, i) => v + (HIGH_LAB[i] - v) * Math.max(0, Math.min(1, t))));

const expLabel = v => {
  const [m, e] = v.toExponential(0).split('e');
  return m + 'e−' + String(-Number(e)).padStart(2, '0');
};

// ---------------- A: heatmap ----------------
function heatColor(v) {
  const mix = (a, b, t) => a.map((x, i) => Math.round(x + (b[i] - x) * t));
  const W = [255, 255, 255];
  let c;
  if (v < 0) {
    const t = -v;
    c = t <= 0.5 ? mix(W, [140, 195, 235], t / 0.5) : mix([140, 195, 235], [58, 110, 195], (t - 0.5) / 0.5);
  } else {
    const t = v;
    c = t <= 0.5 ? mix(W, [243, 125, 118], t / 0.5) : mix([243, 125, 118], [232, 40, 40], (t - 0.5) / 0.5);
  }
  return `rgb(${c[0]},${c[1]},${c[2]})`;
}

(function heatmap() {
  const box = [0, 0, 1010, 1700];
  const STRIP = [-0.169, -0.025];
  const cellText = {
    id: 'cellText',
    afterDatasetsDraw(chart) {
      const { ctx, scales: { x, y }, chartArea } = chart;
      const cx = x.getPixelForValue(0.5);
      ctx.save();
      ctx.font = '17px "Liberation Sans"';
      ctx.textAlign = 'center';
      ctx.textBaseline = 'middle';
      ctx.fillStyle = '#000';
      modules.forEach((m, i) => {
        const cy = y.getPixelForValue(i);
        ctx.fillText(minus(diseaseCor[i]), cx, cy - 10.5);
        ctx.fillText('(' + diseaseP[i] + ')', cx, cy + 10.5);
      });
      const x0 = x.getPixelForValue(0), x1 = x.getPixelForValue(1);
      ctx.strokeStyle = '#000';
      ctx.lineWidth = 2.5;
      ctx.strokeRect(x0, chartArea.top, x1 - x0, chartArea.bottom - chartArea.top);
      // colour key
      const bx = 859, bw = 34, top = 372, bot = 1397, steps = 50;
      for (let k = 0; k < steps; k++) {
        const v = 1 - (k + 0.5) * 2 / steps;
        ctx.fillStyle = heatColor(v);
        ctx.fillRect(bx, top + k * (bot - top) / steps, bw, (bot - top) / steps + 0.6);
      }
      ctx.lineWidth = 2;
      ctx.strokeRect(bx, top, bw, bot - top);
      ctx.font = '33px Lato';
      ctx.textAlign = 'left';
      ctx.fillStyle = '#111';
      corBarTicks.forEach(v => {
        const ty = top + (1 - v) / 2 * (bot - top);
        ctx.beginPath(); ctx.moveTo(bx + bw, ty); ctx.lineTo(bx + bw + 14, ty); ctx.stroke();
        ctx.fillText(v === 0 ? '0' : minus(v.toFixed(1)), bx + bw + 28, ty);
      });
      ctx.restore();
    }
  };
  new Chart(addCanvas(box), {
    type: 'bar',
    data: {
      labels: modules,
      datasets: [
        { data: modules.map(() => STRIP), backgroundColor: moduleColors, grouped: false, barPercentage: 1, categoryPercentage: 1, borderWidth: 0 },
        { data: modules.map(() => [0, 1]), backgroundColor: diseaseCor.map(heatColor), grouped: false, barPercentage: 1, categoryPercentage: 1, borderWidth: 0 }
      ]
    },
    options: {
      indexAxis: 'y', responsive: false, animation: false, devicePixelRatio: 1, events: [],
      layout: { padding: { left: 0, top: 142, right: 1010 - 837, bottom: 0 } },
      plugins: { legend: { display: false }, tooltip: { enabled: false } },
      scales: {
        x: {
          type: 'linear', min: STRIP[0], max: 1,
          afterBuildTicks: a => { a.ticks = [{ value: 0.5 }]; },
          afterFit: s => { s.height = 1700 - 1626; },
          grid: { display: false }, border: { display: false },
          ticks: { callback: () => 'Disease', font: { size: 33 }, color: '#111', padding: 3 }
        },
        y: {
          afterFit: s => { s.width = 265; },
          grid: { display: false }, border: { display: false },
          ticks: { font: { size: 32 }, color: '#111', padding: 9, autoSkip: false }
        }
      }
    },
    plugins: [cellText]
  });
})();

// ---------------- B / G: scatter plots ----------------
function scatterPanel(pts, color, box, frame, xRange, yRange, xTitle, xTitleY, yTitleX) {
  const [L, T, R, B] = box, [fl, ft, fr, fb] = frame;
  new Chart(addCanvas(box), {
    type: 'scatter',
    data: {
      datasets: [{
        data: pts.map(([x, y]) => ({ x, y })),
        pointRadius: 3.8, pointBorderWidth: 1.9, pointBorderColor: color, pointBackgroundColor: 'rgba(0,0,0,0)'
      }]
    },
    options: {
      responsive: false, animation: false, devicePixelRatio: 1, events: [],
      layout: { padding: { left: 0, top: ft - T, right: R - fr, bottom: 0 } },
      plugins: { legend: { display: false }, tooltip: { enabled: false }, frame: { color: '#000', width: 2.5 } },
      scales: {
        x: {
          type: 'linear', min: xRange[0], max: xRange[1],
          afterBuildTicks: a => { a.ticks = mmTicks.map(value => ({ value })); },
          afterFit: s => { s.height = B - fb; },
          grid: { drawOnChartArea: false, tickLength: 14, tickWidth: 2, tickColor: '#000' },
          border: { display: false },
          ticks: { font: { size: 34 }, color: '#111', padding: 0, maxRotation: 0, autoSkip: false, callback: v => String(v) },
          title: { display: true, text: xTitle, font: { size: 35 }, color: '#111', padding: { top: 0, bottom: B - xTitleY - 21 } }
        },
        y: {
          type: 'linear', min: yRange[0], max: yRange[1],
          afterBuildTicks: a => { a.ticks = gsTicks.map(value => ({ value })); },
          afterFit: s => { s.width = fl - L; },
          grid: { drawOnChartArea: false, tickLength: 14, tickWidth: 2, tickColor: '#000' },
          border: { display: false },
          ticks: { font: { size: 34 }, color: '#111', padding: 6, autoSkip: false, callback: v => String(v) },
          title: { display: true, text: 'Gene significance for AD', font: { size: 35 }, color: '#111', padding: { top: yTitleX - L - 21, bottom: 0 } }
        }
      }
    },
    plugins: [framePlugin]
  });
}

scatterPanel(bluePoints, '#3852A6', [1100, 60, 2040, 880], [1269, 108, 1999, 762], [0.274, 0.951], [-0.019, 0.497],
  'Module Membership in blue module', 837, 1172);
scatterPanel(yellowPoints, '#DEE434', [1100, 1920, 2040, 2750], [1274, 1977, 2005, 2631], [0.271, 0.905], [-0.019, 0.492],
  'Module Membership in yellow module', 2710, 1172);

// ---------------- enrichment dot plots ----------------
function dotPanel(p) {
  const [L, T, R, B] = p.box, [fl, ft, fr, fb] = p.frame;
  const n = p.terms.length;
  const logs = p.padj.map(Math.log10);
  const lo = Math.min(...logs), hi = Math.max(...logs);
  const cmin = Math.min(...p.count), cmax = Math.max(...p.count);
  const radius = c => 4.5 + 8 * Math.sqrt(Math.max(0, c - cmin) / (cmax - cmin));
  const shade = v => padjColor((Math.log10(v) - lo) / (hi - lo));
  const step = p.xTicks[1] - p.xTicks[0];
  const gridVals = [];
  for (let v = p.xTicks[0] - 2 * step; v <= p.xRange[1] + 1e-9; v += step / 2) {
    if (v >= p.xRange[0]) gridVals.push(+v.toFixed(5));
  }
  const isMajor = v => p.xTicks.some(t => Math.abs(t - v) < 1e-7);

  const legend = {
    id: 'dotLegend',
    afterDraw(chart) {
      const c = chart.ctx;
      const x = p.legend[0] - L, top = p.legend[1] - T, h = 124, w = 24;
      c.save();
      c.fillStyle = '#111';
      c.textAlign = 'left';
      c.textBaseline = 'middle';
      c.font = 'italic 26px Lato';
      c.fillText('p', x, top - 20);
      const pw = c.measureText('p').width;
      c.font = '26px Lato';
      c.fillText('.adjust', x + pw, top - 20);
      for (let k = 0; k < h; k++) {
        c.fillStyle = padjColor(k / (h - 1));
        c.fillRect(x, top + k, w, 1.6);
      }
      c.font = '25px Lato';
      p.padjTicks.forEach(v => {
        const y = top + (Math.log10(v) - lo) / (hi - lo) * h;
        c.strokeStyle = '#fff';
        c.lineWidth = 1.5;
        c.beginPath(); c.moveTo(x, y); c.lineTo(x + 5, y); c.moveTo(x + w - 5, y); c.lineTo(x + w, y); c.stroke();
        c.fillStyle = '#111';
        c.fillText(expLabel(v), x + w + 4, y);
      });
      const cy = top + h + 34;
      c.font = '26px Lato';
      c.fillText('Count', x, cy);
      let y = cy + 30, prev = null;
      c.font = '25px Lato';
      p.countTicks.forEach(v => {
        const r = radius(v);
        if (prev !== null) y += Math.max(24, prev + r + 5);
        c.strokeStyle = '#111';
        c.lineWidth = 1.5;
        c.beginPath(); c.arc(x + 13, y, r, 0, Math.PI * 2); c.stroke();
        c.fillStyle = '#111';
        c.fillText(String(v), x + 36, y);
        prev = r;
      });
      c.restore();
    }
  };

  new Chart(addCanvas(p.box), {
    type: 'scatter',
    data: {
      datasets: [{
        data: p.ratio.map((x, i) => ({ x, y: i })),
        pointRadius: p.count.map(radius),
        pointBackgroundColor: p.padj.map(shade),
        pointBorderColor: '#1a1a1a',
        pointBorderWidth: 1.4
      }]
    },
    options: {
      responsive: false, animation: false, devicePixelRatio: 1, events: [],
      layout: { padding: { left: 0, top: ft - T, right: R - fr, bottom: 0 } },
      plugins: { legend: { display: false }, tooltip: { enabled: false }, frame: { color: '#333', width: 2.2 } },
      scales: {
        x: {
          type: 'linear', min: p.xRange[0], max: p.xRange[1],
          afterBuildTicks: a => { a.ticks = gridVals.map(value => ({ value })); },
          afterFit: s => { s.height = B - fb; },
          grid: {
            color: c => (c.tick && isMajor(c.tick.value)) ? '#EBEBEB' : '#F3F3F3',
            lineWidth: c => (c.tick && isMajor(c.tick.value)) ? 2 : 1,
            tickColor: c => (c.tick && isMajor(c.tick.value)) ? '#333' : 'rgba(0,0,0,0)',
            tickLength: 5, tickWidth: 2
          },
          border: { display: false },
          ticks: {
            font: { size: 35 }, color: '#1a1a1a', padding: 0, maxRotation: 0, autoSkip: false,
            callback: v => isMajor(v) ? String(+v.toFixed(4)) : ''
          },
          title: { display: true, text: 'GeneRatio', font: { size: 35 }, color: '#111', padding: { top: 0, bottom: B - p.xTitleY - 21 } }
        },
        y: {
          type: 'linear', reverse: true, min: -0.6, max: n - 1 + 0.6,
          afterBuildTicks: a => { a.ticks = p.terms.map((t, i) => ({ value: i })); },
          afterFit: s => { s.width = fl - L; },
          grid: { color: '#EBEBEB', lineWidth: 2, tickColor: '#333', tickLength: 4, tickWidth: 2 },
          border: { display: false },
          ticks: {
            font: { size: 22, lineHeight: p.lineHeight + 'px' }, color: '#1a1a1a', padding: 5, autoSkip: false,
            callback: v => p.terms[v] ? p.terms[v].split('\n') : ''
          }
        }
      }
    },
    plugins: [framePlugin, legend]
  });
}

dotPanel({ terms: cTerms, ratio: cRatio, count: cCount, padj: cPadj, xTicks: cTicks, padjTicks: cPadjTicks, countTicks: cCountTicks,
  box: [2040, 29, 3150, 900], frame: [2365, 69, 3029, 799], xRange: [0.00636, 0.0547], xTitleY: 863, legend: [3052, 306], lineHeight: 19 });
dotPanel({ terms: dTerms, ratio: dRatio, count: dCount, padj: dPadj, xTicks: dTicks, padjTicks: dPadjTicks, countTicks: dCountTicks,
  box: [1000, 956, 2080, 1840], frame: [1299, 996, 1968, 1725], xRange: [0.01495, 0.0625], xTitleY: 1792, legend: [1981, 1230], lineHeight: 18 });
dotPanel({ terms: eTerms, ratio: eRatio, count: eCount, padj: ePadj, xTicks: eTicks, padjTicks: ePadjTicks, countTicks: eCountTicks,
  box: [2040, 939, 3150, 1840], frame: [2382, 979, 3028, 1707], xRange: [0.00287, 0.0406], xTitleY: 1792, legend: [3046, 1227], lineHeight: 18 });
dotPanel({ terms: fTerms, ratio: fRatio, count: fCount, padj: fPadj, xTicks: fTicks, padjTicks: fPadjTicks, countTicks: fCountTicks,
  box: [0, 1865, 1060, 2740], frame: [288, 1905, 949, 2634], xRange: [0.0142, 0.0849], xTitleY: 2695, legend: [960, 2160], lineHeight: 18 });
dotPanel({ terms: hTerms, ratio: hRatio, count: hCount, padj: hPadj, xTicks: hTicks, padjTicks: hPadjTicks, countTicks: hCountTicks,
  box: [2040, 1864, 3150, 2740], frame: [2384, 1904, 3033, 2634], xRange: [0.00751, 0.0565], xTitleY: 2697, legend: [3047, 2139], lineHeight: 20 });
dotPanel({ terms: iTerms, ratio: iRatio, count: iCount, padj: iPadj, xTicks: iTicks, padjTicks: iPadjTicks, countTicks: iCountTicks,
  box: [0, 2815, 1060, 3690], frame: [288, 2855, 946, 3602], xRange: [0.00378, 0.0322], xTitleY: 3665, legend: [959, 3096], lineHeight: 18.4 });
dotPanel({ terms: jTerms, ratio: jRatio, count: jCount, padj: jPadj, xTicks: jTicks, padjTicks: jPadjTicks, countTicks: jCountTicks,
  box: [1030, 2813, 2130, 3690], frame: [1361, 2853, 2024, 3599], xRange: [0.00673, 0.0411], xTitleY: 3665, legend: [2037, 3078], lineHeight: 22 });
dotPanel({ terms: kTerms, ratio: kRatio, count: kCount, padj: kPadj, xTicks: kTicks, padjTicks: kPadjTicks, countTicks: kCountTicks,
  box: [2060, 2815, 3150, 3690], frame: [2385, 2855, 3045, 3602], xRange: [0.00954, 0.1184], xTitleY: 3665, legend: [3054, 3095], lineHeight: 20 });
</script>
</body>
</html>
